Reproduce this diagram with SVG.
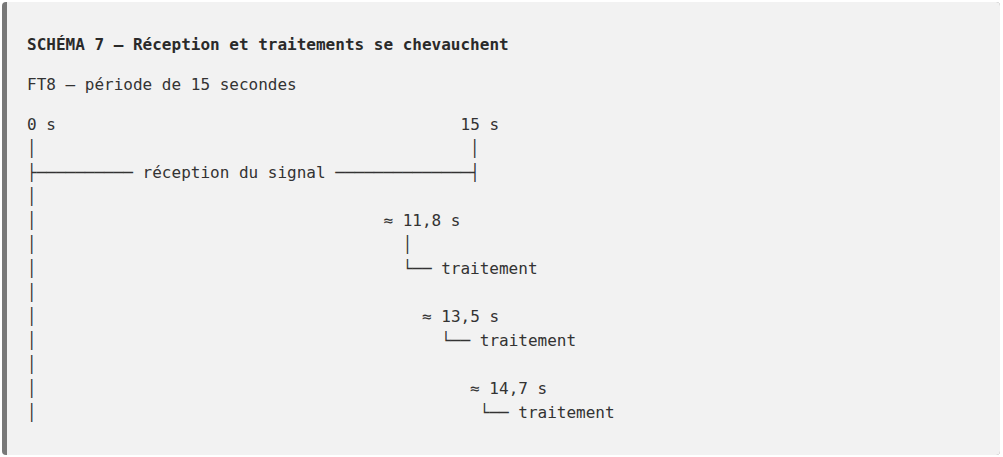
<svg xmlns="http://www.w3.org/2000/svg" width="1003" height="457" viewBox="0 0 1003 457">
  <style>
    text { font-family: "DejaVu Sans Mono", "Liberation Mono", monospace; font-size: 16px; fill: #333333; white-space: pre; }
    .title { font-weight: bold; fill: #2a2a2a; }
  </style>
  <rect x="2" y="2" width="998" height="453" rx="4" fill="#787878"/>
  <path d="M7,2 H996 A4,4 0 0 1 1000,6 V451 A4,4 0 0 1 996,455 H7 Z" fill="#f2f2f2"/>

  <g id="title"><text class="title" x="27" y="50">SCHÉMA 7 — Réception et traitements se chevauchent</text></g>
  <g id="subtitle"><text x="27" y="90">FT8 — période de 15 secondes</text></g>

  <g id="node-start"><text x="27" y="130">0 s</text></g>
  <g id="node-end"><text x="460.5" y="130">15 s</text></g>
  <g id="node-reception"><text x="142.6" y="178">réception du signal</text></g>
  <g id="node-t1">
    <text x="383.4" y="226">≈ 11,8 s</text>
    <text x="441.2" y="274">traitement</text>
  </g>
  <g id="node-t2">
    <text x="422" y="322">≈ 13,5 s</text>
    <text x="479.8" y="346">traitement</text>
  </g>
  <g id="node-t3">
    <text x="470.1" y="394">≈ 14,7 s</text>
    <text x="518.3" y="418">traitement</text>
  </g>

  <g id="connectors">
    <text x="27" y="154">│</text>
    <text x="470.1" y="154">│</text>
    <text x="27" y="178">├──────────</text>
    <text x="335.3" y="178">──────────────┤</text>
    <text x="27" y="202">│</text>
    <text x="27" y="226">│</text>
    <text x="27" y="250">│</text>
    <text x="402.7" y="250">│</text>
    <text x="27" y="274">│</text>
    <text x="402.7" y="274">└──</text>
    <text x="27" y="298">│</text>
    <text x="27" y="322">│</text>
    <text x="27" y="346">│</text>
    <text x="441.2" y="346">└──</text>
    <text x="27" y="370">│</text>
    <text x="27" y="394">│</text>
    <text x="27" y="418">│</text>
    <text x="479.8" y="418">└──</text>
  </g>
</svg>
